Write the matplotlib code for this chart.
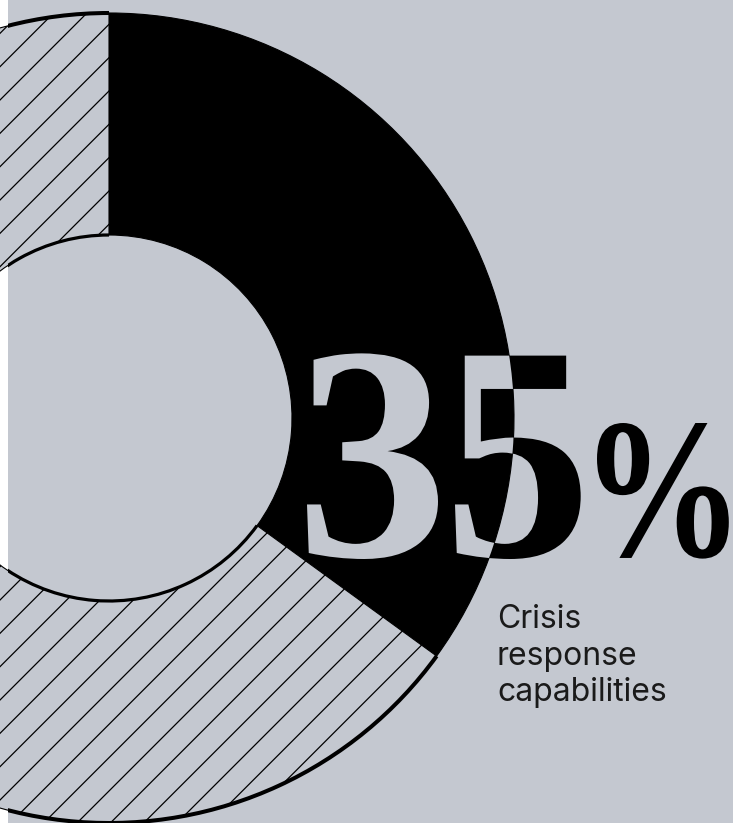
import matplotlib
matplotlib.use("Agg")
import matplotlib.pyplot as plt
from matplotlib.patches import Arc, PathPatch
from matplotlib.textpath import TextPath
from matplotlib.font_manager import FontProperties
from matplotlib.transforms import Affine2D

# Share of the highlighted category (percent) and the remainder
shares = [35, 65]
share_label = "35"
caption_lines = ["Crisis", "response", "capabilities"]

BG = "#c4c8d0"
INK = "#000000"
TEXT = "#1a1a1a"

plt.rcParams["hatch.linewidth"] = 0.9

W, H = 733, 823
fig = plt.figure(figsize=(W / 100, H / 100), dpi=100, facecolor="white")
ax = fig.add_axes([8 / W, 0, (W - 8) / W, 1])
ax.set_facecolor(BG)

cx, cy = 109, H - 418
R_out, R_in = 405, 183

wedges, _ = ax.pie(
    shares,
    colors=[INK, BG],
    startangle=90,
    counterclock=False,
    radius=R_out,
    center=(cx, cy),
    wedgeprops=dict(width=R_out - R_in, linewidth=0.8, edgecolor=INK),
    hatch=["", "/"],
    frame=True,
)

# Heavier outline on the arcs of the remainder segment
rest = wedges[1]
for r, lw in [(R_out, 2.9), (R_in, 2.3)]:
    ax.add_patch(Arc((cx, cy), 2 * r, 2 * r, theta1=rest.theta1,
                     theta2=rest.theta2, lw=lw, color=INK, zorder=3))

ax.set_xlim(8, W)
ax.set_ylim(0, H)
ax.set_aspect("auto")
ax.set_xticks([])
ax.set_yticks([])
for s in ax.spines.values():
    s.set_visible(False)

# Big figure: black over the background, knocked out to background over the wedge
serif = FontProperties(family="Liberation Serif", weight="bold")
base_y = H - 556
# (character, left ink edge, em size, horizontal squeeze)
parts = [(share_label[0], 307, 306, 1.0),
         (share_label[1], 455, 306, 0.97),
         ("%", 597, 200, 0.82)]
for ch, left, size, sx in parts:
    raw = TextPath((0, 0), ch, size=size, prop=serif)
    squeezed = Affine2D().scale(sx, 1).transform_path(raw)
    x0 = squeezed.get_extents().x0
    glyph = Affine2D().translate(left - x0, base_y).transform_path(squeezed)
    ax.add_patch(PathPatch(glyph, facecolor=INK, edgecolor="none", zorder=5))
    knock = PathPatch(glyph, facecolor=BG, edgecolor="none", zorder=6)
    ax.add_patch(knock)
    knock.set_clip_path(wedges[0])

# Caption
for i, line in enumerate(caption_lines):
    ax.text(497, H - 628 - 36.5 * i, line, fontsize=23, color=TEXT,
            family="Inter", weight="normal", ha="left", va="baseline", zorder=5)

fig.savefig("out.png", dpi=100, facecolor=fig.get_facecolor())
